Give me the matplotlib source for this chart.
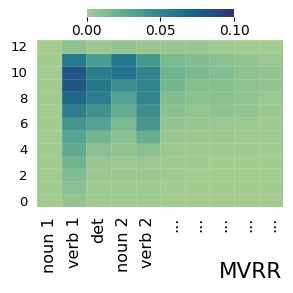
import numpy as np
import matplotlib
matplotlib.use("Agg")
import matplotlib.pyplot as plt
import seaborn as sns

# attention-like weights per token column, layer 0 (bottom) .. 12 (top)
LAYERS = list(range(13))
TOKENS = ["noun 1", "verb 1", "det", "noun 2", "verb 2", "...", "...", "...", "...", "..."]

noun1 = [0.001, 0.001, 0.001, 0.001, 0.001, 0.001, 0.001, 0.001, 0.001, 0.001, 0.001, 0.001, 0.000]
verb1 = [0.007, 0.010, 0.013, 0.018, 0.026, 0.030, 0.040, 0.055, 0.068, 0.080, 0.080, 0.058, 0.008]
det = [0.002, 0.002, 0.003, 0.005, 0.010, 0.017, 0.032, 0.042, 0.055, 0.060, 0.055, 0.035, 0.003]
noun2 = [0.002, 0.002, 0.003, 0.004, 0.006, 0.009, 0.015, 0.024, 0.032, 0.045, 0.062, 0.060, 0.006]
verb2 = [0.002, 0.002, 0.003, 0.004, 0.010, 0.022, 0.038, 0.044, 0.050, 0.052, 0.050, 0.038, 0.004]
rest1 = [0.001, 0.001, 0.002, 0.002, 0.003, 0.004, 0.006, 0.009, 0.012, 0.017, 0.019, 0.015, 0.004]
rest2 = [0.001, 0.001, 0.001, 0.002, 0.002, 0.003, 0.005, 0.006, 0.009, 0.011, 0.015, 0.012, 0.004]
rest3 = [0.001, 0.001, 0.001, 0.001, 0.002, 0.003, 0.004, 0.008, 0.010, 0.011, 0.012, 0.009, 0.002]
rest4 = [0.001, 0.001, 0.001, 0.001, 0.002, 0.002, 0.003, 0.006, 0.007, 0.008, 0.008, 0.006, 0.001]
rest5 = [0.001, 0.001, 0.001, 0.001, 0.001, 0.002, 0.002, 0.003, 0.004, 0.006, 0.006, 0.004, 0.001]

COLUMNS = [noun1, verb1, det, noun2, verb2, rest1, rest2, rest3, rest4, rest5]

cmap = sns.color_palette("crest", as_cmap=True)

fig = plt.figure(figsize=(2.93, 2.93), dpi=100)
ax = fig.add_axes([0.127, 0.2935, 0.84, 0.57])
cax = fig.add_axes([0.296, 0.942, 0.503, 0.027])

data = np.array(COLUMNS).T  # rows = layers, cols = tokens
mesh = ax.pcolormesh(
    np.arange(len(TOKENS) + 1),
    np.arange(len(LAYERS) + 1),
    data,
    cmap=cmap,
    vmin=0.0,
    vmax=0.1,
    edgecolors=(1, 1, 1, 0.12),
    linewidth=0.4,
)
ax.set_xlim(0, len(TOKENS))
ax.set_ylim(0, len(LAYERS))

ax.set_xticks(np.arange(len(TOKENS)) + 0.5)
ax.set_xticklabels(TOKENS, rotation=90, fontsize=11.5)
ax.set_yticks(np.arange(0, 13, 2) + 0.5)
ax.set_yticklabels([str(v) for v in range(0, 13, 2)], fontsize=9.5)
ax.tick_params(axis="x", length=0, pad=7)
ax.tick_params(axis="y", length=0, pad=7)
for sp in ax.spines.values():
    sp.set_visible(False)

cb = fig.colorbar(mesh, cax=cax, orientation="horizontal", ticks=[0.0, 0.05, 0.10], format="%.2f")
cb.outline.set_visible(False)
cax.tick_params(labelsize=10, length=3, width=0.8, pad=2)

fig.text(0.963, 0.05, "MVRR", ha="right", va="baseline", fontsize=15.5)

fig.savefig("out.png", dpi=100)
